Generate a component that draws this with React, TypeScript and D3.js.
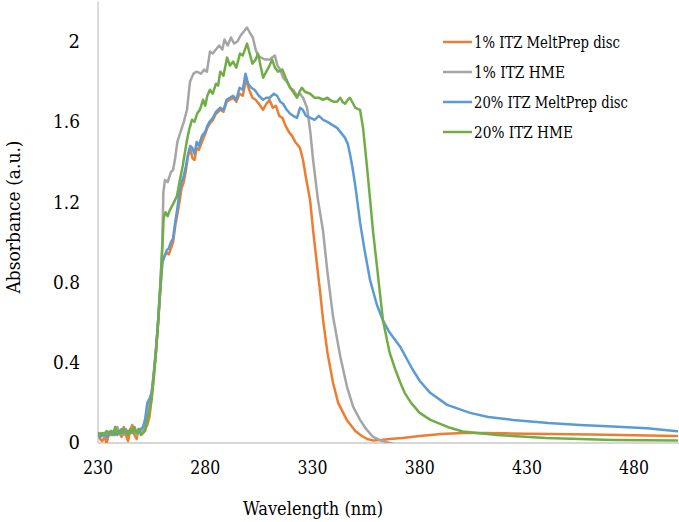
import React from 'react';
import * as d3 from 'd3';

const seriesNames = ['1% ITZ MeltPrep disc', '1% ITZ HME', '20% ITZ MeltPrep disc', '20% ITZ HME'];
const seriesColors = ['#ED7D31', '#A5A5A5', '#5B9BD5', '#70AD47'];
const xTicks = [230, 280, 330, 380, 430, 480];
const yTicks = [0, 0.4, 0.8, 1.2, 1.6, 2];
const yTickLabels = ['0', '0.4', '0.8', '1.2', '1.6', '2'];

const orange1MeltPrep: [number, number][] = [
  [230,0.04],[231,0.02],[232,0.01],[233,0.03],[234,0.0],[235,0.04],[236,0.04],[237,0.05],[238,0.04],[239,0.07],[240,0.05],[241,0.03],[242,0.08],[243,0.04],[244,0.01],[245,0.06],[246,0.09],[247,0.04],[248,0.02],[249,0.07],[250,0.05],[251,0.06],[252,0.07],[253,0.09],[254,0.13],[255,0.22],[256,0.33],[257,0.45],[258,0.59],[259,0.75],[260,0.9],[261,0.93],[262,0.95],[263,0.94],[264,0.97],[265,1.0],[266,1.08],[267,1.14],[268,1.2],[269,1.27],[270,1.3],[271,1.36],[272,1.43],[273,1.47],[274,1.42],[275,1.41],[276,1.47],[277,1.46],[278.5,1.5],[280,1.54],[281,1.57],[282,1.59],[283.6,1.61],[285,1.64],[287,1.66],[288.5,1.65],[290,1.7],[291.5,1.71],[293,1.72],[294.5,1.7],[296,1.74],[297.5,1.73],[299,1.81],[300.5,1.76],[302,1.72],[303.5,1.71],[305,1.69],[307,1.66],[308.5,1.69],[310,1.71],[311.5,1.67],[313,1.68],[314.5,1.63],[316,1.62],[317.5,1.58],[319,1.55],[320.5,1.53],[322,1.5],[324.2,1.47],[325.6,1.41],[327,1.32],[328.9,1.21],[330.3,1.06],[332,0.9],[333.5,0.76],[335,0.61],[337,0.45],[339.6,0.3],[342,0.2],[346,0.115],[350,0.06],[353,0.035],[355.5,0.02],[358,0.013],[362,0.015],[366,0.02],[372,0.025],[380,0.035],[390,0.045],[400,0.05],[410,0.05],[420,0.048],[440,0.045],[460,0.042],[480,0.038],[500,0.035]
];

const gray1HME: [number, number][] = [
  [230,0.03],[231,0.05],[232,0.04],[233,0.03],[234,0.05],[235,0.04],[236,0.05],[237,0.06],[238,0.04],[239,0.08],[240,0.05],[241,0.06],[242,0.04],[243,0.07],[244,0.05],[245,0.06],[246,0.05],[247,0.07],[248,0.04],[249,0.06],[250,0.05],[251,0.07],[252,0.1],[253,0.14],[254,0.2],[255,0.25],[256,0.35],[257,0.47],[258,0.6],[259,0.77],[260,1.0],[260.5,1.25],[261.2,1.31],[262.5,1.3],[264,1.35],[265,1.36],[266,1.42],[267,1.5],[268.5,1.55],[270,1.6],[271.5,1.66],[272.9,1.8],[274.5,1.84],[276,1.85],[278,1.84],[279.5,1.86],[280.8,1.85],[282.2,1.95],[283.5,1.94],[285,1.96],[286.5,1.98],[288,1.96],[289,2.01],[290.5,1.98],[292,2.02],[293.5,1.99],[295,2.0],[296.5,2.03],[298,2.05],[299.5,2.07],[301,2.04],[302.2,2.02],[303.5,1.96],[304.6,1.93],[306,1.92],[308,1.91],[310,1.91],[311.2,1.92],[312.5,1.93],[313.7,1.88],[315,1.86],[316.3,1.82],[318,1.8],[319.6,1.77],[321,1.76],[322.8,1.73],[324.2,1.74],[325.6,1.72],[327.5,1.67],[329,1.55],[330.3,1.41],[332.6,1.21],[334.9,1.06],[337,0.85],[339.6,0.63],[343,0.43],[346.1,0.28],[349,0.18],[352.2,0.115],[355,0.07],[358.3,0.03],[362,0.012],[366,0.0],[370,-0.01],[380,-0.02],[500,-0.02]
];

const blue20MeltPrep: [number, number][] = [
  [230,0.05],[231,0.03],[232,0.04],[233,0.05],[234,0.03],[235,0.04],[236,0.06],[237,0.04],[238,0.05],[239,0.04],[240,0.06],[241,0.05],[242,0.07],[243,0.05],[244,0.06],[245,0.05],[246,0.06],[247,0.07],[248,0.05],[249,0.06],[250,0.07],[251,0.08],[252,0.12],[253,0.2],[254,0.22],[255,0.25],[256,0.34],[257,0.45],[258,0.6],[259,0.76],[260,0.9],[261,0.93],[262,0.96],[263,0.97],[264,1.0],[265,1.02],[266,1.1],[267,1.17],[268,1.25],[269,1.3],[270,1.33],[271,1.38],[272,1.44],[273,1.48],[274,1.47],[275,1.44],[276,1.5],[277,1.48],[278.5,1.53],[280,1.55],[281,1.58],[282,1.6],[283.6,1.62],[285,1.65],[287,1.67],[288.5,1.66],[290,1.71],[291.5,1.72],[293,1.73],[294.5,1.71],[296,1.77],[297.5,1.76],[298.8,1.84],[300,1.79],[301.5,1.77],[303,1.76],[305,1.73],[307,1.71],[308.5,1.72],[310,1.72],[312,1.74],[313.5,1.73],[315,1.7],[316.3,1.69],[318,1.66],[319.6,1.64],[321,1.63],[322.8,1.62],[324.2,1.67],[325.5,1.66],[327,1.63],[329,1.62],[331,1.61],[333,1.63],[335,1.61],[337,1.6],[338.5,1.59],[340,1.58],[341.5,1.57],[343,1.55],[345.2,1.52],[346.5,1.49],[347.5,1.44],[348.7,1.37],[350,1.28],[352.2,1.1],[354,0.98],[356.9,0.81],[360,0.69],[362.9,0.61],[366,0.55],[370.9,0.48],[376.5,0.37],[380,0.31],[384.9,0.25],[392.8,0.19],[403.5,0.15],[412,0.13],[423.6,0.115],[440,0.1],[454.8,0.09],[470,0.082],[486,0.074],[500,0.058]
];

const green20HME: [number, number][] = [
  [230,0.05],[231,0.04],[232,0.05],[233,0.04],[234,0.06],[235,0.05],[236,0.06],[237,0.04],[238,0.08],[239,0.05],[240,0.05],[241,0.07],[242,0.05],[243,0.06],[244,0.04],[245,0.07],[246,0.05],[247,0.08],[248,0.05],[249,0.07],[250,0.04],[251,0.05],[252,0.06],[253,0.12],[254,0.16],[255,0.22],[256,0.33],[257,0.45],[258,0.6],[259,0.78],[260,0.97],[260.6,1.12],[261.5,1.15],[262.5,1.13],[263.5,1.16],[265,1.19],[266.8,1.23],[268,1.3],[269.5,1.38],[271.5,1.51],[272.5,1.56],[273.8,1.61],[275,1.6],[276.2,1.64],[277.5,1.66],[279,1.71],[280,1.68],[281,1.73],[282.2,1.76],[283.5,1.74],[285,1.79],[286,1.78],[287,1.85],[288.5,1.83],[290.2,1.92],[291.5,1.88],[293,1.9],[294.5,1.87],[296.2,1.94],[297.5,1.93],[299.5,1.99],[301,1.93],[302,1.89],[303.5,1.91],[304.6,1.94],[306,1.87],[307,1.82],[308.5,1.85],[310,1.88],[311.2,1.91],[312.5,1.87],[314,1.85],[316,1.86],[317.5,1.82],[319.6,1.77],[321,1.75],[322.8,1.72],[324,1.75],[325.1,1.77],[326.5,1.75],[328.9,1.74],[331,1.72],[333,1.72],[335,1.71],[337,1.72],[338,1.71],[340,1.7],[341.5,1.7],[343,1.72],[344,1.7],[345.2,1.69],[346.5,1.71],[347.5,1.72],[349,1.69],[350,1.67],[352.2,1.66],[353.6,1.57],[355.5,1.37],[358.3,1.05],[360.3,0.86],[362.9,0.61],[366,0.45],[368.5,0.37],[371,0.3],[373,0.25],[376,0.2],[380,0.15],[385,0.115],[393,0.08],[400,0.057],[416,0.04],[439,0.025],[470,0.015],[500,0.012]
];

const seriesData = [orange1MeltPrep, gray1HME, blue20MeltPrep, green20HME];
const legendWidths = [146, 91, 154, 99];

export default function App() {
  const W = 679, H = 522;
  const left = 98, right = 677, bottom = 443;
  const x = d3.scaleLinear().domain([230, 500]).range([left, right]);
  const y = d3.scaleLinear().domain([0, 2.2]).range([bottom, 1.4]);
  const line = d3.line<[number, number]>().x(d => x(d[0])).y(d => y(d[1]));
  const font = 'DejaVu Serif';

  return (
    <svg width={W} height={H} style={{ position: 'absolute', left: 0, top: 0, background: '#fff' }}>
      <defs>
        <clipPath id="plotclip">
          <rect x={left} y={0} width={W - left} height={bottom} />
        </clipPath>
      </defs>
      <rect x={0} y={0} width={W} height={H} fill="#fff" />
      <line x1={left} x2={left} y1={y(2.2)} y2={bottom} stroke="#C8C8C8" strokeWidth={1.3} />
      <line x1={left} x2={W} y1={bottom} y2={bottom} stroke="#C8C8C8" strokeWidth={1.3} />
      <g fontFamily={font} fill="#000">
        {yTicks.map((t, i) => (
          <text key={'y' + t} x={80} y={y(t)} dy="0.36em" textAnchor="end" fontSize={18}
            textLength={yTickLabels[i].length > 1 ? 27 : undefined} lengthAdjust="spacingAndGlyphs">{yTickLabels[i]}</text>
        ))}
        {xTicks.map(t => (
          <text key={'x' + t} x={x(t)} y={468} dy="0.36em" textAnchor="middle" fontSize={18}
            textLength={30} lengthAdjust="spacingAndGlyphs">{t}</text>
        ))}
        <text x={313} y={509} dy="0.35em" textAnchor="middle" fontSize={18} textLength={140} lengthAdjust="spacingAndGlyphs">Wavelength (nm)</text>
        <text transform={`translate(14,217) rotate(-90)`} dy="0.35em" textAnchor="middle" fontSize={18} textLength={153} lengthAdjust="spacingAndGlyphs">Absorbance (a.u.)</text>
      </g>
      <g clipPath="url(#plotclip)">
        {seriesData.map((d, i) => (
          <path key={i} d={line(d) || ''} fill="none" stroke={seriesColors[i]} strokeWidth={2.5} strokeLinejoin="round" strokeLinecap="round" />
        ))}
      </g>
      <g fontFamily={font} fill="#000">
        {seriesNames.map((n, i) => (
          <g key={n}>
            <line x1={443} x2={472} y1={42 + i * 30} y2={42 + i * 30} stroke={seriesColors[i]} strokeWidth={2.5} />
            <text x={474} y={42 + i * 30} dy="0.35em" fontSize={16} textLength={legendWidths[i]} lengthAdjust="spacingAndGlyphs">{n}</text>
          </g>
        ))}
      </g>
    </svg>
  );
}
